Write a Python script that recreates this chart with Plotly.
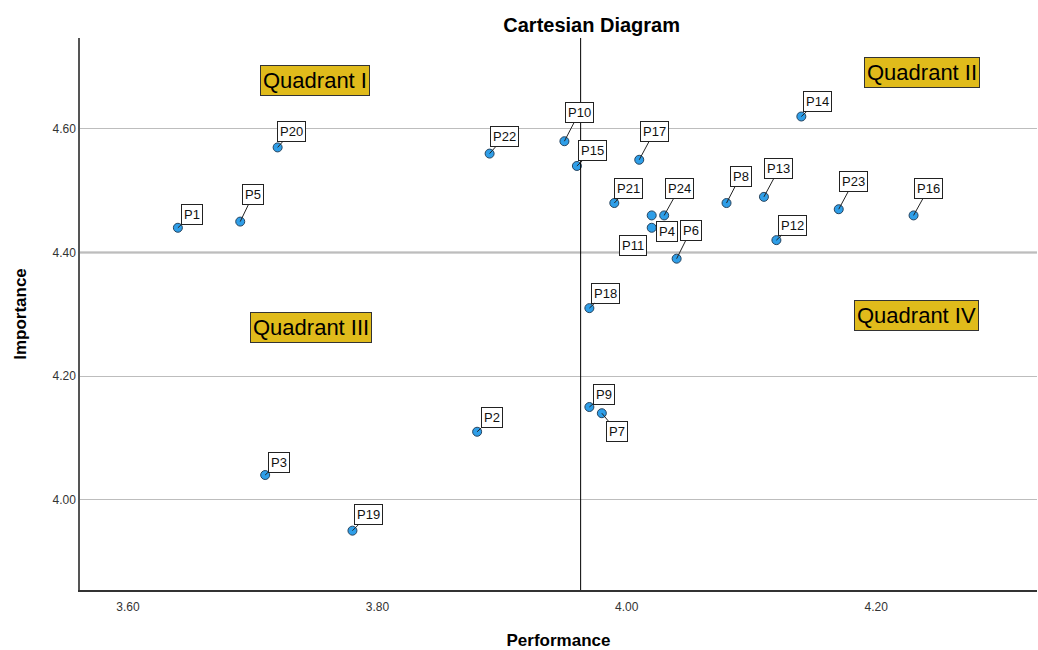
import plotly.graph_objects as go

# ---- data ----
labels = ["P1", "P2", "P3", "P4", "P5", "P6", "P7", "P8", "P9", "P10", "P11", "P12",
          "P13", "P14", "P15", "P16", "P17", "P18", "P19", "P20", "P21", "P22", "P23", "P24"]
performance = [3.64, 3.88, 3.71, 4.02, 3.69, 4.04, 3.98, 4.08, 3.97, 3.95, 4.02, 4.12,
               4.11, 4.14, 3.96, 4.23, 4.01, 3.97, 3.78, 3.72, 3.99, 3.89, 4.17, 4.03]
importance = [4.44, 4.11, 4.04, 4.44, 4.45, 4.39, 4.14, 4.48, 4.15, 4.58, 4.46, 4.42,
              4.49, 4.62, 4.54, 4.46, 4.55, 4.31, 3.95, 4.57, 4.48, 4.56, 4.47, 4.46]
mean_performance = 3.963
mean_importance = 4.40
x_ticks = [3.60, 3.80, 4.00, 4.20]
y_ticks = [4.00, 4.20, 4.40, 4.60]
quadrant_names = ["Quadrant I", "Quadrant II", "Quadrant III", "Quadrant IV"]
quadrant_x = [3.75, 4.2365, 3.747, 4.232]
quadrant_y = [4.678, 4.691, 4.279, 4.298]

# ---- label placement (pixel offsets of label box centre from point) ----
label_offsets = {
    "P1": (14, -13), "P2": (15, -14), "P3": (14, -13), "P4": (15, 4), "P5": (13, -27),
    "P6": (14, -28), "P7": (15, 18), "P8": (14, -27), "P9": (15, -13), "P10": (15, -29),
    "P11": (-19, 30), "P12": (16, -15), "P13": (15, -28), "P14": (16, -15), "P15": (16, -15),
    "P16": (15, -27), "P17": (15, -28), "P18": (16, -15), "P19": (16, -16), "P20": (14, -16),
    "P21": (14, -15), "P22": (15, -17), "P23": (15, -28), "P24": (15, -27),
}
no_leader = {"P4", "P11"}

FONT = "Arial, Liberation Sans, sans-serif"

fig = go.Figure()
fig.add_trace(go.Scatter(
    x=performance, y=importance, mode="markers",
    marker=dict(size=9, color="#2e9ee8", line=dict(color="#28445e", width=1)),
    hoverinfo="text", text=labels, showlegend=False,
))

# reference lines
fig.add_shape(type="line", xref="x", yref="paper", x0=mean_performance, x1=mean_performance,
              y0=0, y1=1, line=dict(color="#000000", width=1), layer="above")
fig.add_shape(type="line", xref="paper", yref="y", x0=0, x1=1,
              y0=mean_importance, y1=mean_importance, line=dict(color="#555555", width=1.6), layer="below")

annotations = []
for lab, xv, yv in zip(labels, performance, importance):
    ax, ay = label_offsets[lab]
    common = dict(x=xv, y=yv, xref="x", yref="y", text=lab,
                  font=dict(family=FONT, size=13, color="#111"),
                  bgcolor="white", bordercolor="#222", borderwidth=1, borderpad=2)
    if lab in no_leader:
        annotations.append(dict(showarrow=False, xshift=ax, yshift=-ay, **common))
    else:
        annotations.append(dict(showarrow=True, arrowhead=0, arrowwidth=1, arrowcolor="#222",
                                ax=ax, ay=ay, standoff=0, startstandoff=0, **common))

for name, qx, qy in zip(quadrant_names, quadrant_x, quadrant_y):
    annotations.append(dict(x=qx, y=qy, xref="x", yref="y", text=name, showarrow=False,
                            font=dict(family=FONT, size=22, color="#000"),
                            bgcolor="#e0bb1b", bordercolor="#333", borderwidth=1, borderpad=2))

fig.update_layout(
    width=1038, height=650,
    margin=dict(l=80, r=1, t=38, b=60),
    paper_bgcolor="white", plot_bgcolor="white",
    title=dict(text="<b>Cartesian Diagram</b>", x=0.570, xanchor="center", y=0.9615, yanchor="middle",
               font=dict(family=FONT, size=20, color="#000")),
    annotations=annotations,
    font=dict(family=FONT),
)
fig.update_xaxes(
    range=[3.5615, 4.329], tickvals=x_ticks, ticktext=[f"{v:.2f}" for v in x_ticks],
    showgrid=False, zeroline=False, showline=True, linecolor="#333", linewidth=1.5,
    ticks="outside", ticklen=5, tickcolor="rgba(0,0,0,0)",
    tickfont=dict(family=FONT, size=12, color="#333"),
    title=dict(text="<b>Performance</b>", font=dict(family=FONT, size=17, color="#000"), standoff=22),
)
fig.update_yaxes(
    range=[3.854, 4.747], tickvals=y_ticks, ticktext=[f"{v:.2f}" for v in y_ticks],
    showgrid=True, gridcolor="#bdbdbd", gridwidth=1, zeroline=False,
    showline=True, linecolor="#555", linewidth=1.5,
    ticks="outside", ticklen=0, tickcolor="rgba(0,0,0,0)",
    tickfont=dict(family=FONT, size=12, color="#333"),
    title=dict(text="<b>Importance</b>", font=dict(family=FONT, size=17, color="#000"), standoff=22),
)

# remove the default page margin so the figure fills the 1038x650 window exactly
fig.write_html("out.html", config={"displayModeBar": False},
               post_script="document.body.style.margin='0';document.body.style.overflow='hidden';")
